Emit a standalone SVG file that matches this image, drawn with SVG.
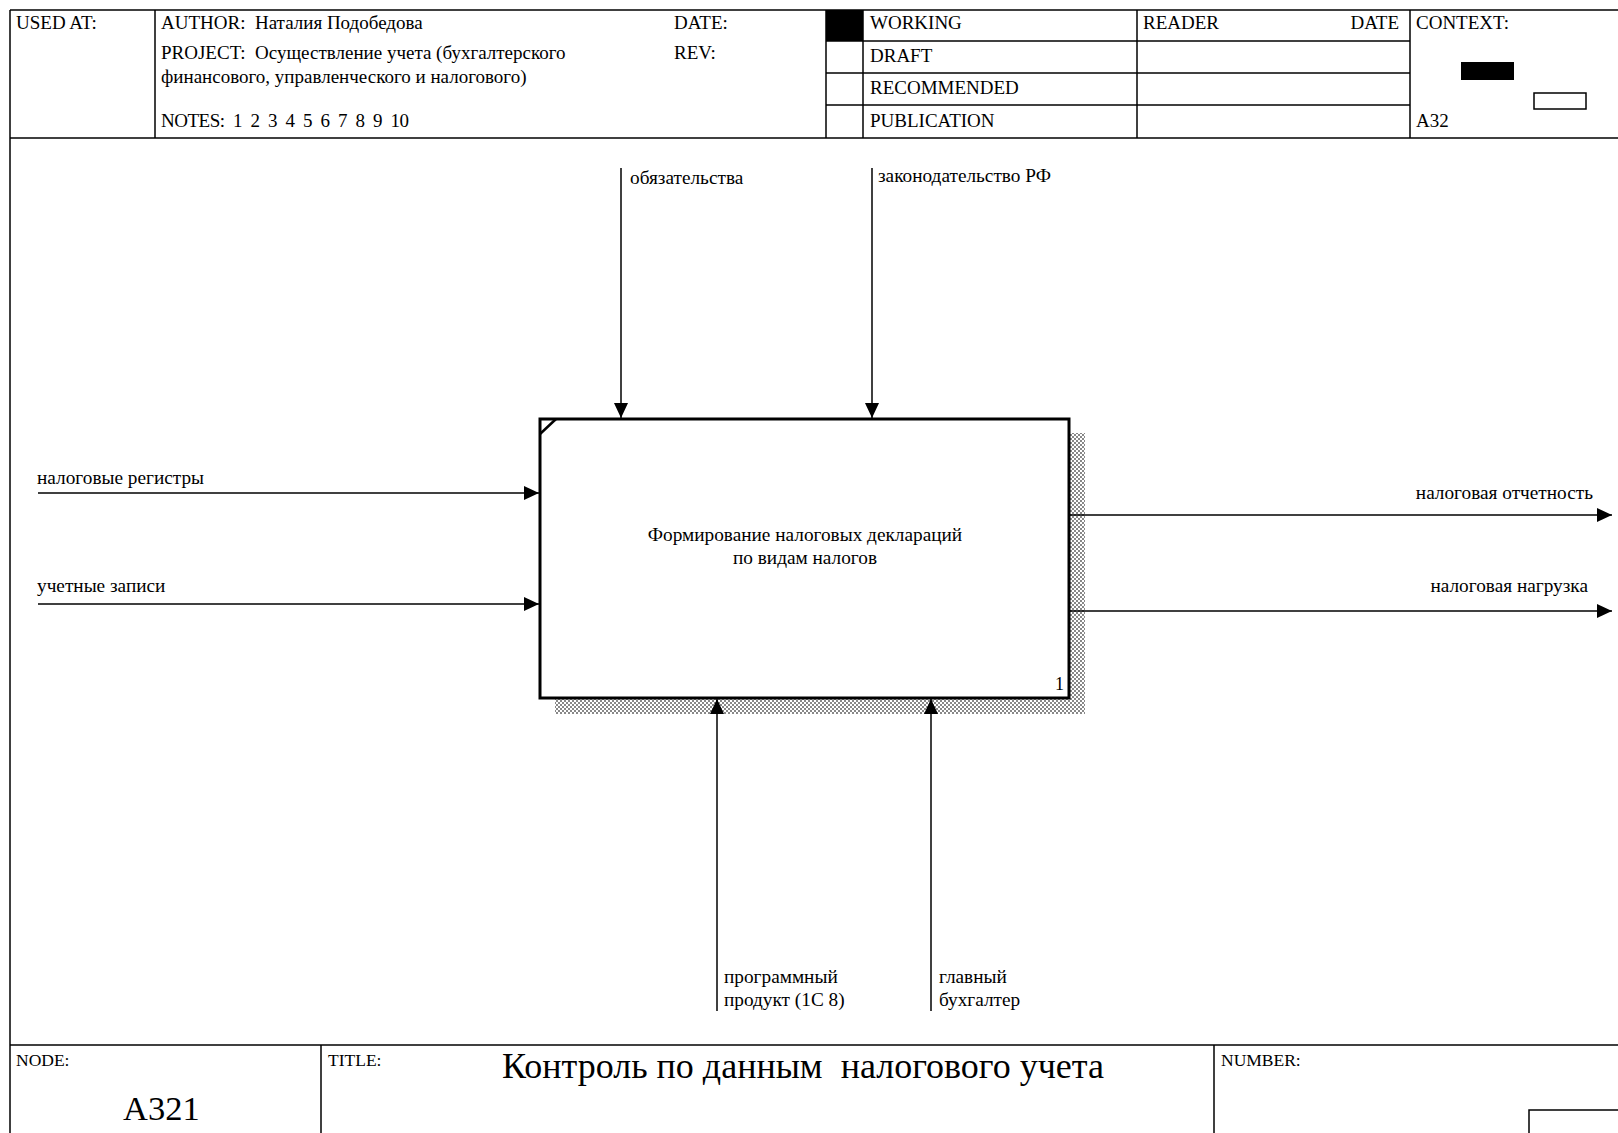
<svg xmlns="http://www.w3.org/2000/svg" width="1618" height="1133" viewBox="0 0 1618 1133">
  <style>
    .t { font-family: "Liberation Serif", "Times New Roman", serif; fill: #000; white-space: pre; }
    .hdr { font-size: 19px; }
    .ftl { font-size: 17.5px; }
    .lbl { font-size: 19.3px; }
    .num { font-size: 18px; }
    .node { font-size: 34.5px; }
    .big { font-size: 36px; }
    .frame { fill: none; stroke: #000; stroke-width: 1.5; }
    .conn { fill: none; stroke: #000; stroke-width: 1.5; }
  </style>
  <defs>
    <marker id="arrow" markerUnits="userSpaceOnUse" markerWidth="16" markerHeight="14" refX="15" refY="7" orient="auto">
      <path d="M0,0 L15,7 L0,14 Z" fill="#000"/>
    </marker>
    <pattern id="dither" width="4" height="4" patternUnits="userSpaceOnUse">
      <rect width="4" height="4" fill="#fff"/>
      <rect x="0" y="0" width="2" height="2" fill="#888"/>
      <rect x="2" y="2" width="2" height="2" fill="#888"/>
    </pattern>
  </defs>

  <rect width="1618" height="1133" fill="#fff"/>

  <!-- header block -->
  <g id="header">
    <line class="frame" x1="10" y1="10" x2="1618" y2="10"/>
    <line class="frame" x1="10" y1="138" x2="1618" y2="138"/>
    <line class="frame" x1="10" y1="10" x2="10" y2="1133"/>
    <line class="frame" x1="155" y1="10" x2="155" y2="138"/>
    <line class="frame" x1="826" y1="10" x2="826" y2="138"/>
    <line class="frame" x1="863" y1="10" x2="863" y2="138"/>
    <line class="frame" x1="1137" y1="10" x2="1137" y2="138"/>
    <line class="frame" x1="1410" y1="10" x2="1410" y2="138"/>
    <line class="frame" x1="826" y1="41" x2="1410" y2="41"/>
    <line class="frame" x1="826" y1="73" x2="1410" y2="73"/>
    <line class="frame" x1="826" y1="105" x2="1410" y2="105"/>
    <rect x="826" y="10" width="37" height="31" fill="#000"/>
    <rect x="1461" y="62" width="53" height="18" fill="#000"/>
    <rect x="1534" y="93" width="52" height="16" fill="#fff" stroke="#000" stroke-width="1.5"/>

    <text class="t hdr" x="16" y="29">USED AT:</text>
    <text class="t hdr" x="161" y="29">AUTHOR:  Наталия Подобедова</text>
    <text class="t hdr" x="674" y="29">DATE:</text>
    <text class="t hdr" x="161" y="59">PROJECT:  Осуществление учета (бухгалтерского</text>
    <text class="t hdr" x="674" y="59">REV:</text>
    <text class="t hdr" x="161" y="83">финансового, управленческого и налогового)</text>
    <text class="t hdr" x="161" y="127" textLength="248" lengthAdjust="spacing">NOTES:  1  2  3  4  5  6  7  8  9  10</text>
    <text class="t hdr" x="870" y="29">WORKING</text>
    <text class="t hdr" x="870" y="62">DRAFT</text>
    <text class="t hdr" x="870" y="94">RECOMMENDED</text>
    <text class="t hdr" x="870" y="127">PUBLICATION</text>
    <text class="t hdr" x="1143" y="29">READER</text>
    <text class="t hdr" x="1399" y="29" text-anchor="end">DATE</text>
    <text class="t hdr" x="1416" y="29">CONTEXT:</text>
    <text class="t hdr" x="1416" y="127">A32</text>
  </g>

  <!-- activity box -->
  <g id="node-1">
    <rect x="1069" y="433" width="16" height="281" fill="url(#dither)"/>
    <rect x="555" y="698" width="530" height="16" fill="url(#dither)"/>
    <rect x="540" y="419" width="529" height="279" fill="#fff" stroke="#000" stroke-width="3"/>
    <line x1="540" y1="434" x2="556" y2="419" stroke="#000" stroke-width="2.5"/>
    <text class="t lbl" x="805" y="541" text-anchor="middle">Формирование налоговых деклараций</text>
    <text class="t lbl" x="805" y="564" text-anchor="middle">по видам налогов</text>
    <text class="t num" x="1064" y="690" text-anchor="end">1</text>
  </g>

  <!-- arrows: controls, inputs, outputs, mechanisms -->
  <g id="connectors">
    <line class="conn" x1="621" y1="168" x2="621" y2="418" marker-end="url(#arrow)"/>
    <line class="conn" x1="872" y1="168" x2="872" y2="418" marker-end="url(#arrow)"/>
    <line class="conn" x1="38" y1="493" x2="539" y2="493" marker-end="url(#arrow)"/>
    <line class="conn" x1="38" y1="604" x2="539" y2="604" marker-end="url(#arrow)"/>
    <line class="conn" x1="1070" y1="515" x2="1612" y2="515" marker-end="url(#arrow)"/>
    <line class="conn" x1="1070" y1="611" x2="1612" y2="611" marker-end="url(#arrow)"/>
    <line class="conn" x1="717" y1="1011" x2="717" y2="699" marker-end="url(#arrow)"/>
    <line class="conn" x1="931" y1="1011" x2="931" y2="699" marker-end="url(#arrow)"/>

    <text class="t lbl" x="630" y="184">обязательства</text>
    <text class="t lbl" x="878" y="182">законодательство РФ</text>
    <text class="t lbl" x="37" y="484">налоговые регистры</text>
    <text class="t lbl" x="37" y="592">учетные записи</text>
    <text class="t lbl" x="1593" y="499" text-anchor="end">налоговая отчетность</text>
    <text class="t lbl" x="1588" y="592" text-anchor="end">налоговая нагрузка</text>
    <text class="t lbl" x="724" y="983">программный</text>
    <text class="t lbl" x="724" y="1006">продукт (1С 8)</text>
    <text class="t lbl" x="939" y="983">главный</text>
    <text class="t lbl" x="939" y="1006">бухгалтер</text>
  </g>

  <!-- footer block -->
  <g id="footer">
    <line class="frame" x1="10" y1="1045" x2="1618" y2="1045"/>
    <line class="frame" x1="321" y1="1045" x2="321" y2="1133"/>
    <line class="frame" x1="1214" y1="1045" x2="1214" y2="1133"/>
    <rect x="1529" y="1110" width="100" height="40" fill="#fff" stroke="#000" stroke-width="1.5"/>
    <text class="t ftl" x="16" y="1066">NODE:</text>
    <text class="t ftl" x="328" y="1066">TITLE:</text>
    <text class="t ftl" x="1221" y="1066">NUMBER:</text>
    <text class="t node" x="123" y="1120">A321</text>
    <text class="t big" x="502" y="1078">Контроль по данным  налогового учета</text>
  </g>
</svg>
